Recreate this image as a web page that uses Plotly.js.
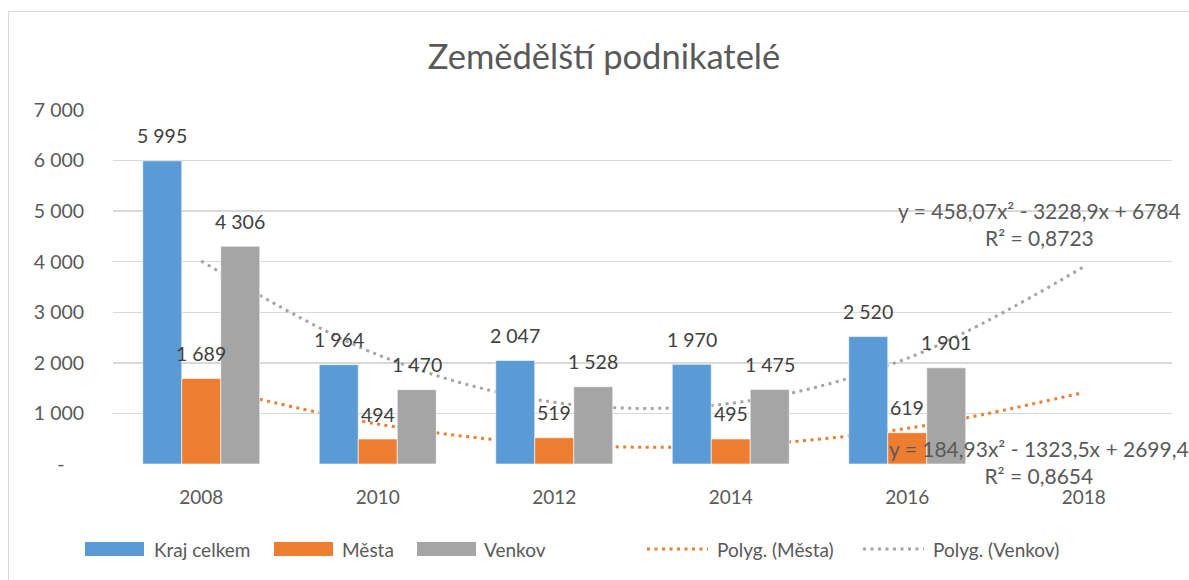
<!DOCTYPE html>
<html>
<head>
<meta charset="utf-8">
<script src="https://cdn.plot.ly/plotly-3.0.1.min.js"></script>
<style>
  html, body { margin: 0; padding: 0; background: #fff; overflow: hidden; }
  #chart { width: 1189px; height: 580px; position: absolute; left: 0; top: 0; }
  #frame { position: absolute; left: 8px; top: 11px; width: 1200px; height: 600px;
           border: 1.5px solid #d9d9d9; pointer-events: none; }
</style>
</head>
<body>
<div id="chart"></div>
<div id="frame"></div>
<script>
// ---- data ----
const years = ["2008", "2010", "2012", "2014", "2016", "2018"];
const krajCelkem = [5995, 1964, 2047, 1970, 2520, null];
const mesta = [1689, 494, 519, 495, 619, null];
const venkov = [4306, 1470, 1528, 1475, 1901, null];
// polynomial trend values (at each category)
const trendMesta = [1560, 790, 390, 365, 705, 1415];
const trendVenkov = [4015, 2160, 1220, 1200, 2090, 3900];
const yTickVals = [0, 1000, 2000, 3000, 4000, 5000, 6000, 7000];
const yTickText = ["-\u2002\u2002", "1 000", "2 000", "3 000", "4 000", "5 000", "6 000", "7 000"];
const seriesNames = ["Kraj celkem", "Města", "Venkov", "Polyg. (Města)", "Polyg. (Venkov)"];
const eqVenkov = "y = 458,07x² - 3228,9x + 6784<br>R² = 0,8723";
const eqMesta = "y = 184,93x² - 1323,5x + 2699,4<br>R² = 0,8654";

// ---- style ----
const FONT = "Lato, 'Liberation Sans', sans-serif";
const C_BLUE = "#5B9BD5", C_ORANGE = "#ED7D31", C_GRAY = "#A5A5A5";
const TXT = "#595959", LBL = "#404040";
const L = 113, R = 17, T = 110, B = 116, W = 1189, H = 580;
const PW = W - L - R, PH = H - T - B;
const BARGAP = 0.337;
const catW = PW / years.length;
const barW = catW * (1 - BARGAP) / 3;
const px2x = p => (p - L) / PW;
const py2y = p => 1 - (p - T) / PH;
const DOT = "3px,4.5px";

const barLine = { color: "rgba(255,255,255,0.6)", width: 1 };

const traces = [
  { type: "bar", name: seriesNames[0], x: years, y: krajCelkem,
    marker: { color: C_BLUE, line: barLine }, zorder: 1, hoverinfo: "y" },
  { type: "bar", name: seriesNames[1], x: years, y: mesta,
    marker: { color: C_ORANGE, line: barLine }, zorder: 1, hoverinfo: "y" },
  { type: "bar", name: seriesNames[2], x: years, y: venkov,
    marker: { color: C_GRAY, line: barLine }, zorder: 1, hoverinfo: "y" },
  { type: "scatter", mode: "lines", name: seriesNames[3], x: years, y: trendMesta,
    line: { color: C_ORANGE, width: 3, dash: DOT, shape: "spline", smoothing: 1 },
    zorder: 0, hoverinfo: "skip" },
  { type: "scatter", mode: "lines", name: seriesNames[4], x: years, y: trendVenkov,
    line: { color: C_GRAY, width: 3, dash: DOT, shape: "spline", smoothing: 1 },
    zorder: 0, hoverinfo: "skip" }
];

// data labels (outside end), built from the series arrays
const annotations = [];
const fmt = v => String(v).replace(/\B(?=(\d{3})+(?!\d))/g, " ");
[krajCelkem, mesta, venkov].forEach((vals, s) => {
  vals.forEach((v, i) => {
    if (v === null) return;
    annotations.push({
      x: i, y: v, xref: "x", yref: "y",
      text: fmt(v),
      showarrow: false, xshift: (s - 1) * barW, yshift: 25, yanchor: "middle",
      font: { family: FONT, size: 19.5, color: LBL }
    });
  });
});
annotations.push({
  xref: "paper", yref: "paper", x: px2x(1039), y: py2y(224),
  text: eqVenkov, showarrow: false, align: "center", xanchor: "center", yanchor: "middle",
  font: { family: FONT, size: 21, color: TXT }
});
annotations.push({
  xref: "paper", yref: "paper", x: px2x(1039), y: py2y(462),
  text: eqMesta, showarrow: false, align: "center", xanchor: "center", yanchor: "middle",
  font: { family: FONT, size: 21, color: TXT }
});

// custom legend (wide swatches like the original)
const shapes = [];
const LEG_Y = 549;
const legendItems = [
  { kind: "rect", color: C_BLUE, x0: 85, x1: 144, tx: 152 },
  { kind: "rect", color: C_ORANGE, x0: 274, x1: 333, tx: 340 },
  { kind: "rect", color: C_GRAY, x0: 417, x1: 476, tx: 482 },
  { kind: "line", color: C_ORANGE, x0: 647, x1: 708, tx: 715 },
  { kind: "line", color: C_GRAY, x0: 863, x1: 924, tx: 931 }
];
legendItems.forEach((it, k) => {
  if (it.kind === "rect") {
    shapes.push({ type: "rect", xref: "paper", yref: "paper",
      x0: px2x(it.x0), x1: px2x(it.x1), y0: py2y(LEG_Y - 7), y1: py2y(LEG_Y + 7),
      fillcolor: it.color, line: { width: 0 } });
  } else {
    shapes.push({ type: "line", xref: "paper", yref: "paper",
      x0: px2x(it.x0), x1: px2x(it.x1), y0: py2y(LEG_Y), y1: py2y(LEG_Y),
      line: { color: it.color, width: 3, dash: DOT } });
  }
  annotations.push({ xref: "paper", yref: "paper", x: px2x(it.tx), y: py2y(LEG_Y),
    xanchor: "left", yanchor: "middle", showarrow: false, text: seriesNames[k],
    font: { family: FONT, size: 19, color: TXT } });
});

const layout = {
  width: W, height: H,
  margin: { l: L, r: R, t: T, b: B, pad: 0 },
  paper_bgcolor: "#ffffff", plot_bgcolor: "#ffffff",
  font: { family: FONT, color: TXT },
  title: {
    text: "Zemědělští podnikatelé",
    font: { family: FONT, size: 34.5, color: TXT },
    xref: "container", x: 604 / W, xanchor: "center",
    yref: "container", y: 1 - 57 / H, yanchor: "middle"
  },
  barmode: "group", bargap: BARGAP, bargroupgap: 0,
  showlegend: false,
  xaxis: {
    type: "category", range: [-0.5, years.length - 0.5],
    showgrid: false, zeroline: false,
    showline: true, linecolor: "#d9d9d9", linewidth: 1.5,
    ticks: "outside", ticklen: 16, tickcolor: "rgba(0,0,0,0)",
    tickfont: { family: FONT, size: 19, color: TXT }
  },
  yaxis: {
    range: [0, 7000], tickvals: yTickVals, ticktext: yTickText,
    showgrid: true, gridcolor: "#d9d9d9", gridwidth: 1.5, zeroline: false,
    showline: false,
    ticks: "outside", ticklen: 24, tickcolor: "rgba(0,0,0,0)",
    tickfont: { family: FONT, size: 19.5, color: TXT }
  },
  shapes: shapes,
  annotations: annotations
};

Plotly.newPlot("chart", traces, layout, { displayModeBar: false, staticPlot: true });
</script>
</body>
</html>
